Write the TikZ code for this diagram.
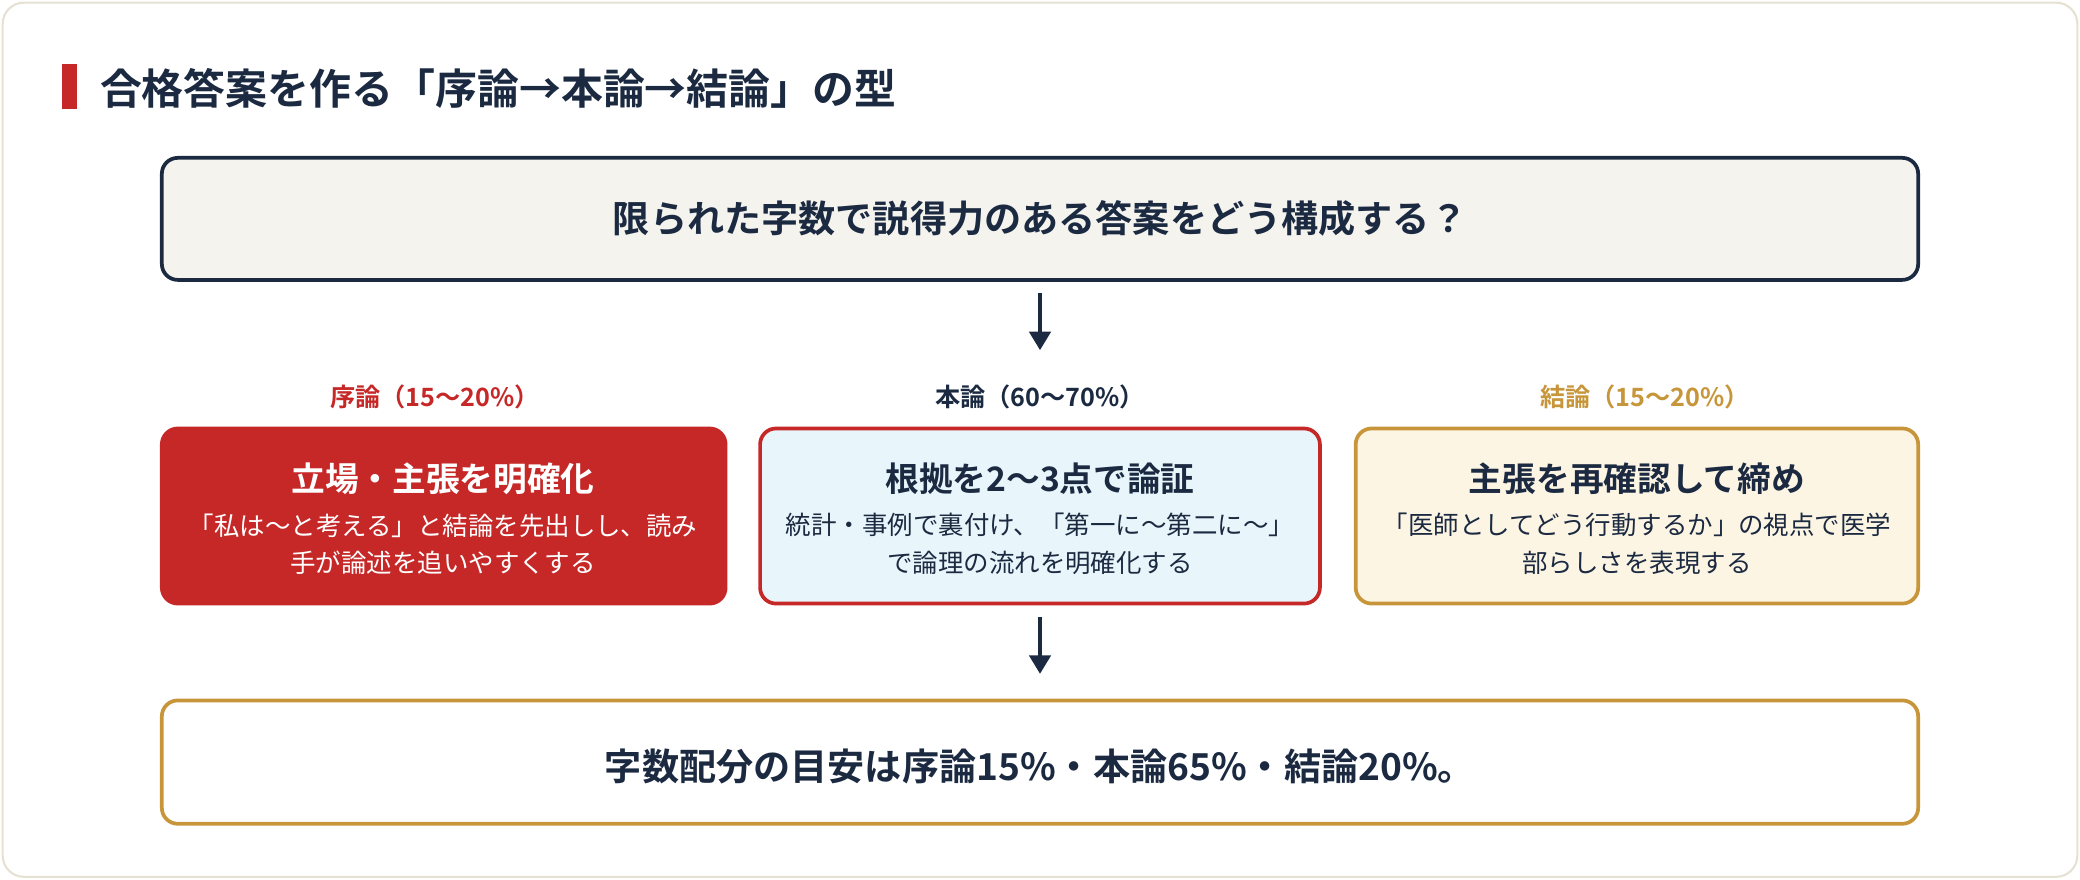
\documentclass[tikz,border=0pt]{standalone}
\usepackage{fontspec}
\setmainfont{Noto Sans CJK JP}
\newfontfamily\jpb{Noto Sans CJK JP Bold}
\usetikzlibrary{arrows.meta}
\definecolor{navy}{HTML}{1B2A41}
\definecolor{redc}{HTML}{C62828}
\definecolor{gold}{HTML}{C8963A}
\definecolor{cream}{HTML}{F5F3EE}
\definecolor{lblue}{HTML}{E8F6FB}
\definecolor{lgold}{HTML}{FDF5E4}
\definecolor{frame}{HTML}{E6E2D3}
\begin{document}
\begin{tikzpicture}[x=0.5pt,y=-0.5pt,
  box/.style={rounded corners=6pt,line width=1.4pt},
  arr/.style={draw=navy,line width=1.5pt,-{Triangle[length=7pt,width=8pt]}},
  t/.style={inner sep=0pt,text=navy}]
\useasboundingbox (0,0) rectangle (1568,663);
\draw[frame,line width=0.8pt,rounded corners=8pt,fill=white] (2,2) rectangle (1566,661);
\fill[redc] (47,48) rectangle (58,82);
\node[t,anchor=west,font=\jpb\fontsize{15.8pt}{18pt}\selectfont] (ttl) at (75,67) {合格答案を作る「序論→本論→結論」の型};
\draw[box,draw=navy,fill=cream] (122,119) rectangle (1446,211);
\node[t,font=\jpb\fontsize{14pt}{16pt}\selectfont] (q) at (784,165) {限られた字数で説得力のある答案をどう構成する？};
\coordinate (a1) at (784,221); \coordinate (a2) at (784,264);
\draw[arr] (a1) -- (a2);
\node[t,text=redc,font=\jpb\fontsize{9.5pt}{11pt}\selectfont] (l1) at (328,299) {序論（15〜20\%）};
\node[t,font=\jpb\fontsize{9.5pt}{11pt}\selectfont] (l2) at (784,299) {本論（60〜70\%）};
\node[t,text=gold,font=\jpb\fontsize{9.5pt}{11pt}\selectfont] (l3) at (1240,299) {結論（15〜20\%）};
\draw[box,draw=redc,fill=redc] (122,323) rectangle (547,455);
\draw[box,draw=redc,fill=lblue] (573,323) rectangle (995,455);
\draw[box,draw=gold,fill=lgold] (1022,323) rectangle (1446,455);
\node[t,text=white,font=\jpb\fontsize{12.7pt}{14pt}\selectfont] (b1) at (334,361) {立場・主張を明確化};
\node[t,text=white,align=center,font=\fontsize{9.6pt}{14pt}\selectfont] (d1) at (334,410) {「私は〜と考える」と結論を先出しし、読み\\手が論述を追いやすくする};
\node[t,font=\jpb\fontsize{12.7pt}{14pt}\selectfont] (b2) at (784,361) {根拠を2〜3点で論証};
\node[t,align=center,font=\fontsize{9.6pt}{14pt}\selectfont] (d2) at (784,410) {統計・事例で裏付け、「第一に〜第二に〜」\\で論理の流れを明確化する};
\node[t,font=\jpb\fontsize{12.7pt}{14pt}\selectfont] (b3) at (1234,361) {主張を再確認して締め};
\node[t,align=center,font=\fontsize{9.6pt}{14pt}\selectfont] (d3) at (1234,410) {「医師としてどう行動するか」の視点で医学\\部らしさを表現する};
\coordinate (a3) at (784,465); \coordinate (a4) at (784,508);
\draw[arr] (a3) -- (a4);
\draw[box,draw=gold,fill=white] (122,528) rectangle (1446,621);
\node[t,font=\jpb\fontsize{14pt}{16pt}\selectfont] (bt) at (784,578) {字数配分の目安は序論15\%・本論65\%・結論20\%。};
\end{tikzpicture}
\end{document}
